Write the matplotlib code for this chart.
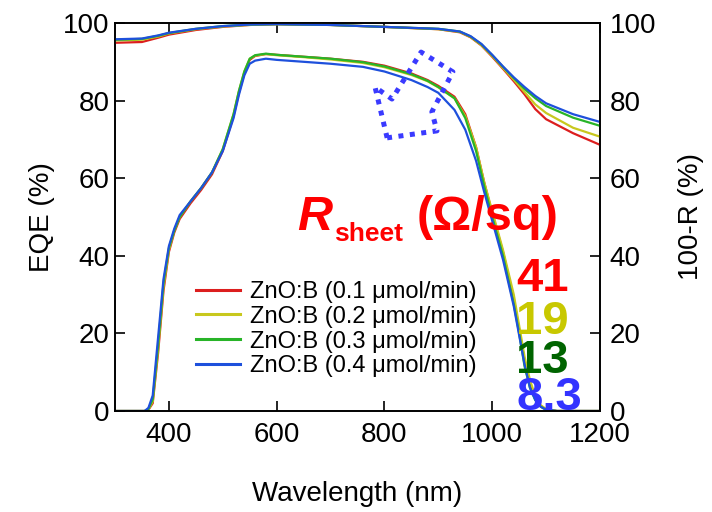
import matplotlib
matplotlib.use('Agg')
import matplotlib.pyplot as plt

plt.rcParams['font.family'] = ['Liberation Sans', 'DejaVu Sans']

labels = ['ZnO:B (0.1 μmol/min)', 'ZnO:B (0.2 μmol/min)',
          'ZnO:B (0.3 μmol/min)', 'ZnO:B (0.4 μmol/min)']
colors = ['#dc1e1e', '#c8c81e', '#28b428', '#1e50dc']

# EQE spectra (%)
wl_eqe = [300, 355, 362, 370, 380, 390, 400, 410, 420, 440,
          460, 480, 500, 520, 530, 540, 550, 560, 580, 600,
          650, 700, 760, 800, 850, 880, 900, 930, 950, 970,
          985, 1000, 1020, 1040, 1050, 1060, 1070, 1080, 1090, 1100,
          1120, 1200]
eqe_01 = [0, 0, 0.3, 2, 15, 31, 41, 46, 49.5, 53.5,
          57, 61, 67, 76, 82, 87, 90.5, 91.5, 92, 91.8,
          91.3, 90.8, 90, 89, 87, 85.3, 83.8, 81, 76.5, 68,
          59, 51, 41, 29, 21, 13, 7, 3.2, 1.3, 0.4,
          0, 0]
eqe_02 = [0, 0, 0.3, 2.5, 16, 32, 41.5, 46.5, 50, 54,
          57.5, 61.5, 67.5, 76.5, 82.5, 87.5, 90.8, 91.6, 92, 91.7,
          91.2, 90.6, 89.7, 88.6, 86.6, 85, 83.4, 80.6, 76, 68,
          59, 51.5, 41.5, 30, 22, 14, 8, 3.8, 1.5, 0.5,
          0, 0]
eqe_03 = [0, 0, 0.5, 3, 17, 33, 42, 46.5, 50, 54,
          57.5, 61.5, 67.5, 76.5, 82.5, 87.5, 90.8, 91.7, 92.1, 91.8,
          91.3, 90.8, 89.9, 88.8, 86.8, 85.1, 83.5, 80.6, 75.5, 67,
          58, 50, 40, 27.5, 20, 11.5, 6, 2.8, 1.1, 0.3,
          0, 0]
eqe_04 = [0, 0, 0.8, 4, 19, 34, 42.5, 47, 50.5, 54,
          57.5, 61.5, 67, 75.5, 81.5, 86.5, 89.5, 90.3, 90.8, 90.5,
          90, 89.5, 88.7, 87.5, 85.3, 83.5, 82, 77.6, 72.5, 64.5,
          56.5, 49, 39, 27, 19.5, 12, 6, 2.8, 1.1, 0.3,
          0, 0]

# 100-R spectra (%)
wl_r = [300, 350, 380, 400, 450, 500, 550, 600, 700, 800,
        900, 940, 960, 980, 1000, 1020, 1040, 1060, 1080, 1100,
        1150, 1200]
r_01 = [94.9, 95.1, 96.2, 97.0, 98.2, 99.0, 99.5, 99.7, 99.5, 99.0,
        98.4, 97.6, 96.3, 94.2, 91.3, 88.2, 85.0, 81.6, 77.8, 75.2,
        71.6, 68.6]
r_02 = [95.5, 95.7, 96.5, 97.3, 98.4, 99.1, 99.5, 99.7, 99.5, 99.0,
        98.4, 97.7, 96.4, 94.3, 91.5, 88.4, 85.4, 82.2, 79.0, 76.8,
        73.0, 70.7]
r_03 = [95.7, 95.9, 96.7, 97.4, 98.5, 99.2, 99.6, 99.7, 99.5, 99.0,
        98.5, 97.8, 96.5, 94.5, 91.7, 88.7, 85.8, 83.0, 80.6, 78.6,
        75.6, 73.5]
r_04 = [95.8, 96.0, 96.8, 97.5, 98.5, 99.2, 99.6, 99.7, 99.5, 99.0,
        98.5, 97.8, 96.6, 94.6, 91.8, 88.8, 86.0, 83.5, 81.2, 79.3,
        76.5, 74.5]

rsheet = ['41', '19', '13', '8.3']
rsheet_colors = ['#ff0000', '#c8c800', '#006400', '#3333ff']
rsheet_y = [34, 23, 13, 3.3]

# dotted block arrow (points toward lower EQE)
arrow_x = [805, 782.5, 814, 868, 927, 888, 897.5, 805]
arrow_y = [70.4, 83.5, 80.4, 92.5, 87.4, 77.1, 72.2, 70.4]

fig = plt.figure(figsize=(7.12, 5.12), dpi=100)
ax = fig.add_axes([115 / 712, 101 / 512, 485 / 712, 388 / 512])
ax2 = ax.twinx()

eqe = [eqe_01, eqe_02, eqe_03, eqe_04]
refl = [r_01, r_02, r_03, r_04]
for i in range(4):
    ax.plot(wl_eqe, eqe[i], color=colors[i], lw=1.6, label=labels[i])
    ax2.plot(wl_r, refl[i], color=colors[i], lw=1.6)

ax.plot(arrow_x, arrow_y, color='#3a3aff', lw=3.6, ls=(0, (1, 1.3)),
        dash_capstyle='butt', solid_joinstyle='miter')

ax.set_xlim(300, 1200)
ax.set_ylim(0, 100)
ax2.set_ylim(0, 100)
ax.set_xticks([400, 600, 800, 1000, 1200])
ax.set_yticks([0, 20, 40, 60, 80, 100])
ax2.set_yticks([0, 20, 40, 60, 80, 100])

ax.tick_params(axis='both', direction='in', length=7, width=1.2,
               labelsize=20, top=True)
ax.tick_params(axis='x', pad=8)
ax.tick_params(axis='y', pad=4)
ax2.tick_params(axis='y', direction='in', length=7, width=1.2,
                labelsize=20, pad=7)
for a in (ax, ax2):
    for s in a.spines.values():
        s.set_linewidth(1.2)

ax.set_xlabel('Wavelength (nm)', fontsize=20, labelpad=24)
ax.set_ylabel('EQE (%)', fontsize=20, labelpad=6)
ax2.set_ylabel('100-R (%)', fontsize=20, labelpad=16)

lgd = ax.legend(loc='center left', bbox_to_anchor=(0.168, 0.211),
                fontsize=17, frameon=False, borderpad=0, borderaxespad=0,
                handlelength=1.85, handletextpad=0.4, labelspacing=0.12)
for h in lgd.get_lines():
    h.set_linewidth(2.2)

# R_sheet heading built from three pieces
t_r = ax.text(638, 46.6, 'R', fontsize=35, fontweight='bold',
              fontstyle='italic', color='#ff0000', va='baseline')
t_s = ax.annotate('sheet', xy=(1, 46.6), xycoords=(t_r, 'data'),
                  xytext=(1, -7.5), textcoords='offset points',
                  fontsize=19, fontweight='bold', color='#ff0000',
                  va='baseline')
ax.annotate('(Ω/sq)', xy=(1, 46.6), xycoords=(t_s, 'data'),
            xytext=(10, 0), textcoords='offset points',
            fontsize=35, fontweight='bold', color='#ff0000', va='baseline')

for txt, c, y in zip(rsheet, rsheet_colors, rsheet_y):
    ax.text(1045, y, txt, fontsize=34, fontweight='bold', color=c,
            ha='left', va='center')

fig.savefig('out.png', dpi=100)
